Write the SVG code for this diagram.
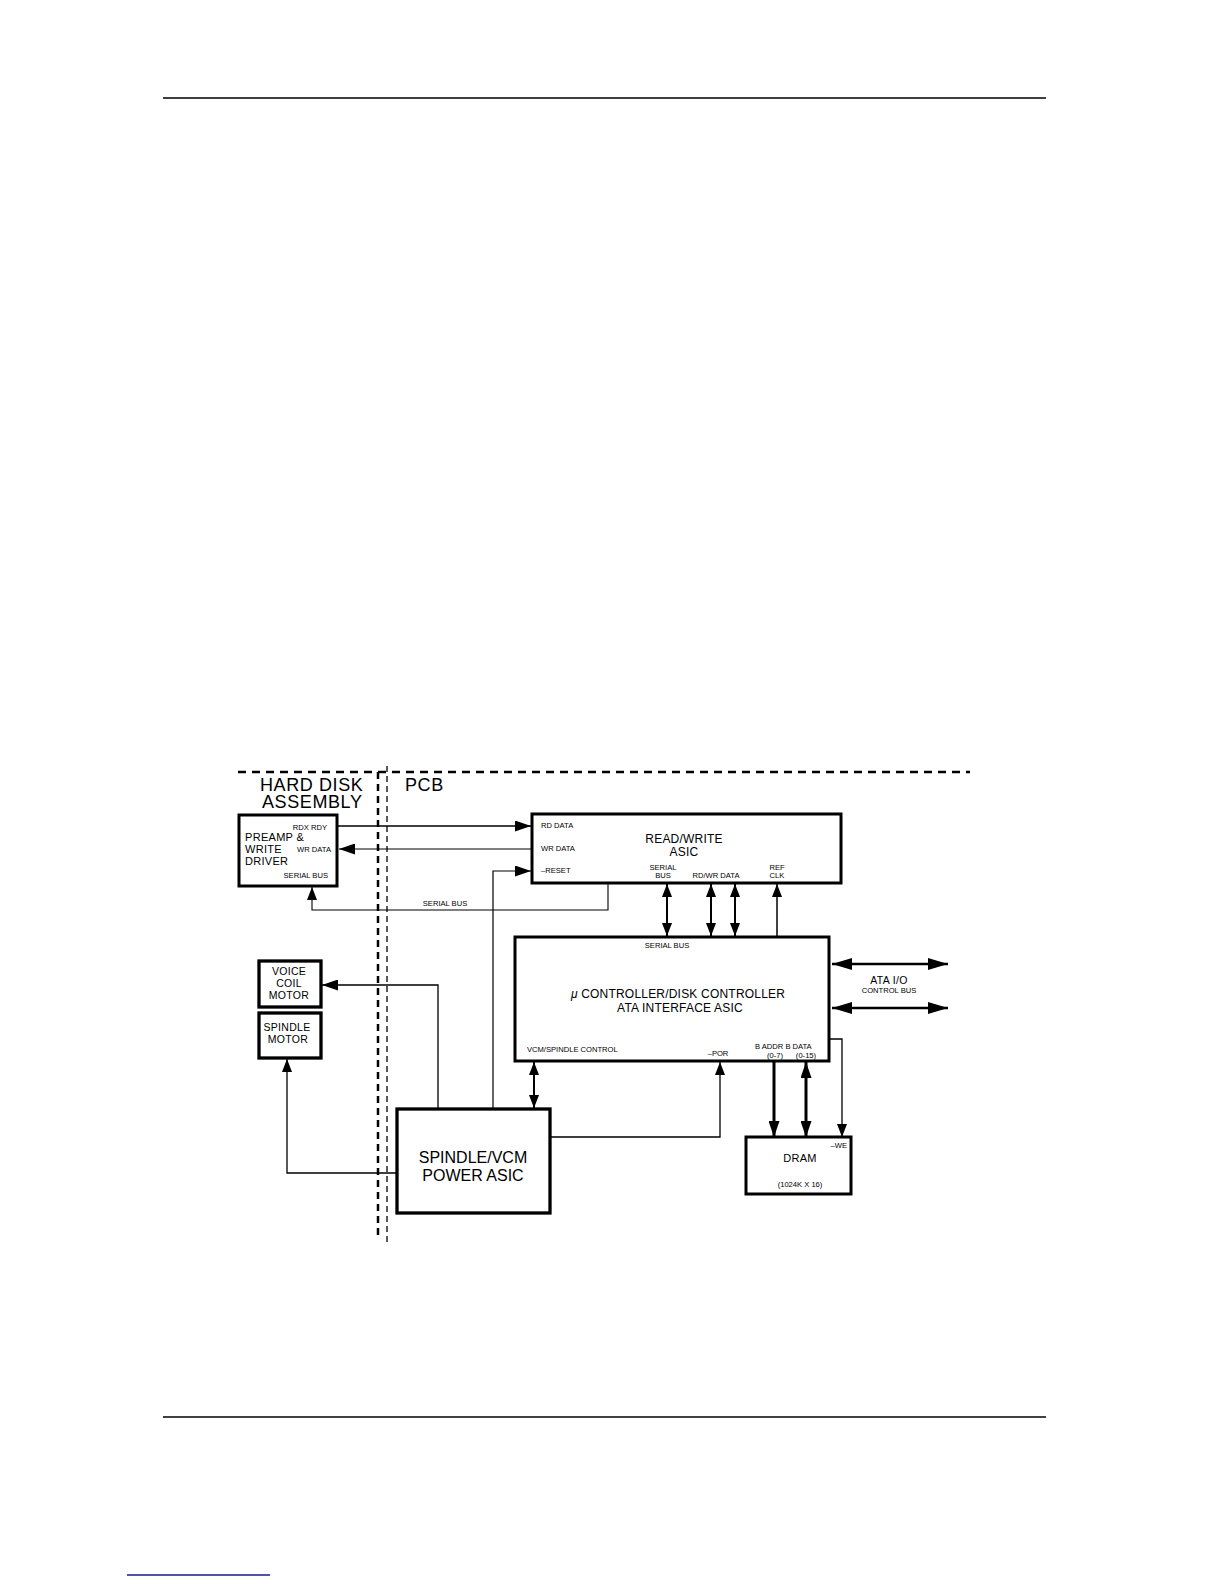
<svg xmlns="http://www.w3.org/2000/svg" width="1224" height="1584" viewBox="0 0 1224 1584">
<defs>
<style>
text{font-family:"Liberation Sans",Arial,sans-serif;fill:#000}
.box{fill:#fff;stroke:#000;stroke-width:3}
.hd{font-size:18px;letter-spacing:0.6px}
.md{font-size:12px;letter-spacing:0.2px}
.sm{font-size:11px;letter-spacing:0.3px}
.xs{font-size:7.6px}
.c{text-anchor:middle}
.r{text-anchor:end}
.ln{fill:none;stroke:#000}
</style>
<marker id="ah" markerUnits="userSpaceOnUse" markerWidth="16" markerHeight="11" refX="16" refY="5.5" orient="auto-start-reverse" viewBox="0 0 16 11">
<path d="M0,0 L16,5.5 L0,11 z" fill="#000"/>
</marker>
<marker id="ahl" markerUnits="userSpaceOnUse" markerWidth="20" markerHeight="12" refX="20" refY="6" orient="auto-start-reverse" viewBox="0 0 20 12">
<path d="M0,0 L20,6 L0,12 z" fill="#000"/>
</marker>
<marker id="ahs" markerUnits="userSpaceOnUse" markerWidth="13" markerHeight="10" refX="13" refY="5" orient="auto-start-reverse" viewBox="0 0 13 10">
<path d="M0,0 L13,5 L0,10 z" fill="#000"/>
</marker>
</defs>
<rect width="1224" height="1584" fill="#fff"/>

<g id="page">
<path d="M163,98 H1046" stroke="#000" stroke-width="1.3"/>
<path d="M163,1417 H1046" stroke="#000" stroke-width="1.3"/>
<path d="M127,1575 H270" stroke="#1a1a8c" stroke-width="1.3"/>
</g>

<g id="regions">
<path d="M238,772 H970" stroke="#000" stroke-width="2.5" stroke-dasharray="8 6"/>
<path d="M378,772 V1240" stroke="#000" stroke-width="2.5" stroke-dasharray="7 5"/>
<path d="M387,766 V1245" stroke="#000" stroke-width="1.3" stroke-dasharray="6 4"/>
<text class="hd" x="260" y="791">HARD DISK</text>
<text class="hd" x="262" y="808">ASSEMBLY</text>
<text class="hd" x="405" y="791">PCB</text>
</g>

<g id="connectors">
<path class="ln" d="M337,826 H531" stroke-width="1.6" marker-end="url(#ah)"/>
<path class="ln" d="M531,849 H339" stroke-width="1.2" marker-end="url(#ah)"/>
<path class="ln" d="M493,1109 V871 H531" stroke-width="1.2" marker-end="url(#ah)"/>
<path class="ln" d="M608,883 V910 H312 V887" stroke-width="1.1" marker-end="url(#ahs)"/>
<path class="ln" d="M667,884 V936" stroke-width="2" marker-start="url(#ahs)" marker-end="url(#ahs)"/>
<path class="ln" d="M711,884 V936" stroke-width="2" marker-start="url(#ahs)" marker-end="url(#ahs)"/>
<path class="ln" d="M735,884 V936" stroke-width="2" marker-start="url(#ahs)" marker-end="url(#ahs)"/>
<path class="ln" d="M777,937 V884" stroke-width="1.5" marker-end="url(#ahs)"/>
<path class="ln" d="M832,964 H948" stroke-width="2.5" marker-start="url(#ahl)" marker-end="url(#ahl)"/>
<path class="ln" d="M832,1008 H948" stroke-width="2.5" marker-start="url(#ahl)" marker-end="url(#ahl)"/>
<path class="ln" d="M438,1109 V985 H322" stroke-width="1.3" marker-end="url(#ah)"/>
<path class="ln" d="M397,1173 H287 V1059" stroke-width="1.3" marker-end="url(#ahs)"/>
<path class="ln" d="M534,1062 V1108" stroke-width="2" marker-start="url(#ahs)" marker-end="url(#ahs)"/>
<path class="ln" d="M550,1137 H720 V1062" stroke-width="1.3" marker-end="url(#ahs)"/>
<path class="ln" d="M774,1062 V1137" stroke-width="3" marker-end="url(#ah)"/>
<path class="ln" d="M806,1062 V1137" stroke-width="3" marker-start="url(#ah)" marker-end="url(#ah)"/>
<path class="ln" d="M830,1039 H842 V1137" stroke-width="1.3" marker-end="url(#ahs)"/>
<text class="xs c" x="445" y="906">SERIAL BUS</text>
<text class="sm c" x="889" y="984" style="font-size:10.5px">ATA I/O</text>
<text class="xs c" x="889" y="993">CONTROL BUS</text>
</g>

<g id="preamp">
<rect class="box" x="239" y="815" width="98" height="71"/>
<text class="sm" x="245" y="841">PREAMP &amp;</text>
<text class="sm" x="245" y="853">WRITE</text>
<text class="sm" x="245" y="865">DRIVER</text>
<text class="xs r" x="327" y="830">RDX RDY</text>
<text class="xs r" x="331" y="852">WR DATA</text>
<text class="xs r" x="328" y="878">SERIAL BUS</text>
</g>

<g id="rw-asic">
<rect class="box" x="532" y="814" width="309" height="69"/>
<text class="md c" x="684" y="843">READ/WRITE</text>
<text class="md c" x="684" y="856">ASIC</text>
<text class="xs" x="541" y="828">RD DATA</text>
<text class="xs" x="541" y="851">WR DATA</text>
<text class="xs" x="541" y="873">–RESET</text>
<text class="xs c" x="663" y="870">SERIAL</text>
<text class="xs c" x="663" y="878">BUS</text>
<text class="xs c" x="716" y="878">RD/WR DATA</text>
<text class="xs c" x="777" y="870">REF</text>
<text class="xs c" x="777" y="878">CLK</text>
</g>

<g id="controller">
<rect class="box" x="515" y="937" width="314" height="124"/>
<text class="xs c" x="667" y="948">SERIAL BUS</text>
<text class="md c" x="678" y="998"><tspan font-style="italic">μ</tspan> CONTROLLER/DISK CONTROLLER</text>
<text class="md c" x="680" y="1012">ATA INTERFACE ASIC</text>
<text class="xs" x="527" y="1052">VCM/SPINDLE CONTROL</text>
<text class="xs c" x="718" y="1056">–POR</text>
<text class="xs" x="755" y="1049">B ADDR B DATA</text>
<text class="xs c" x="775" y="1058">(0-7)</text>
<text class="xs c" x="806" y="1058">(0-15)</text>
</g>

<g id="vcm">
<rect class="box" x="259" y="961" width="62" height="46" style="stroke-width:3.3"/>
<text class="sm c" x="289" y="975" style="font-size:10.5px">VOICE</text>
<text class="sm c" x="289" y="987" style="font-size:10.5px">COIL</text>
<text class="sm c" x="289" y="999" style="font-size:10.5px">MOTOR</text>
</g>

<g id="spindle-motor">
<rect class="box" x="259" y="1013" width="62" height="45" style="stroke-width:3.3"/>
<text class="sm c" x="287" y="1031" style="font-size:10.5px">SPINDLE</text>
<text class="sm c" x="288" y="1043" style="font-size:10.5px">MOTOR</text>
</g>

<g id="power-asic">
<rect class="box" x="397" y="1109" width="153" height="104" style="stroke-width:3.3"/>
<text class="c" x="473" y="1163" style="font-size:16px">SPINDLE/VCM</text>
<text class="c" x="473" y="1181" style="font-size:16px">POWER ASIC</text>
</g>

<g id="dram">
<rect class="box" x="746" y="1137" width="105" height="57"/>
<text class="xs r" x="847" y="1148">–WE</text>
<text class="sm c" x="800" y="1162">DRAM</text>
<text class="xs c" x="800" y="1187">(1024K X 16)</text>
</g>
</svg>
